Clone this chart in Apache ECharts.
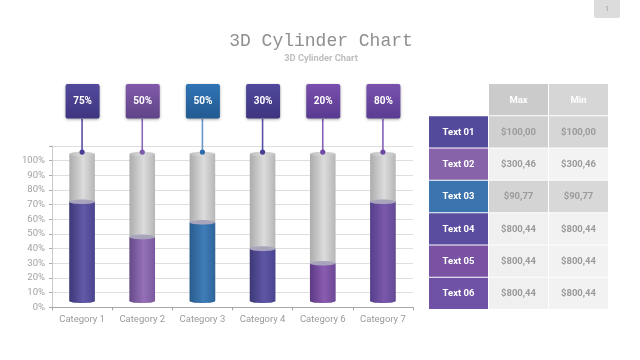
<!DOCTYPE html>
<html><head><meta charset="utf-8">
<script src="https://cdn.jsdelivr.net/npm/echarts@6/dist/echarts.min.js"></script>
<style>html,body{margin:0;padding:0;background:#fff}#c{width:640px;height:360px}</style></head>
<body><div id="c"></div>
<script>
const categories = ['Category 1','Category 2','Category 3','Category 4','Category 6','Category 7'];
const fillValues = [72, 48, 58, 40, 30, 72];
const calloutLabels = ['75%','50%','50%','30%','20%','80%'];
const cylinderBase = 4.5;
const cylinderTop = 104.5;
const barPalette = [
  ['#3d3878','#625aa8','#4a4490'],
  ['#664a8a','#9570b8','#7a5a9e'],
  ['#2a5c8e','#3f7cb8','#2f659c'],
  ['#3d3878','#5f57a5','#4a4490'],
  ['#5c3a85','#8a5cb0','#6c4896'],
  ['#553f8c','#7a58ab','#634a98']
];
const calloutPalette = [
  ['#52499c','#3d3580'],['#8259ab','#5f4488'],['#2f74b5','#235a92'],
  ['#50489c','#3d3580'],['#7a4fae','#583a90'],['#7a52ae','#5a3c92']
];
const lineColors = ['#5a50a8','#8a68b8','#6a96c8','#5a50a8','#8460b8','#8460b8'];
const dotColors = ['#483f95','#7d5cab','#2d6cab','#483f95','#6f4aa5','#6f4aa5'];
const tableCols = ['','Max','Min'];
const rowLabels = ['Text 01','Text 02','Text 03','Text 04','Text 05','Text 06'];
const maxValues = ['$100,00','$300,46','$90,77','$800,44','$800,44','$800,44'];
const minValues = ['$100,00','$300,46','$90,77','$800,44','$800,44','$800,44'];
const rowColors = ['#544a9c','#8763aa','#3b74ae','#5a4da0','#7a52a4','#6f52a6'];
const headColors = ['#ffffff','#cbcbcb','#d6d6d6'];
const rowShades = [['#d0d0d0','#d6d6d6'],['#f1f1f1','#f3f3f3'],['#d4d4d4','#d8d8d8'],['#f0f0f0','#f2f2f2'],['#f0f0f0','#f2f2f2'],['#f0f0f0','#f2f2f2']];
const yMax = 110;
const tableRowKeys = ['h','0','1','2','3','4','5'];

const F = 'Roboto';
const grad = (a,b,c) => ({type:'linear',x:0,y:0,x2:1,y2:0,colorStops:[
  {offset:0,color:a},{offset:0.55,color:b},{offset:1,color:c}]});

function cyl(api, topV, body, cap){
  const x = api.coord([api.value(0),0])[0];
  const w = api.size([1,0])[0]*0.425;
  const top = api.coord([0,topV])[1];
  const bot = api.coord([0,cylinderBase])[1];
  const ry = 2.3;
  return {type:'group',children:[
    {type:'ellipse',shape:{cx:x,cy:bot,rx:w/2,ry:ry},style:{fill:body}},
    {type:'rect',shape:{x:x-w/2,y:top,width:w,height:bot-top},style:{fill:body}},
    {type:'ellipse',shape:{cx:x,cy:top,rx:w/2,ry:ry},style:{fill:cap}}
  ]};
}

const idx = categories.map((c,i)=>i);
const tableData = [];
tableRowKeys.forEach((r,ri)=>tableCols.forEach((c,ci)=>tableData.push([ci,ri])));

const option = {
  animation:false,
  backgroundColor:'#fff',
  title:[
    {text:'3D Cylinder Chart',left:316,top:27,textAlign:'center',
     textStyle:{fontFamily:'Liberation Mono',fontSize:18,fontWeight:'normal',color:'#8f8f8f'}},
    {text:'3D Cylinder Chart',left:316,top:49,textAlign:'center',
     textStyle:{fontFamily:F,fontSize:9.3,fontWeight:'bold',color:'#bdbdbd'}}
  ],
  graphic:[
    {type:'rect',shape:{x:594,y:0,width:26,height:18,r:[0,0,2,2]},style:{fill:'#dcdcdc'}},
    {type:'text',style:{x:607,y:9,text:'1',align:'center',verticalAlign:'middle',fill:'#999',fontSize:7,fontFamily:F}}
  ],
  grid:[
    {left:52,top:146,width:361,height:161.3},
    {left:429,top:84,width:180,height:226}
  ],
  xAxis:[
    {type:'category',gridIndex:0,data:categories,
     axisLine:{lineStyle:{color:'#a8a8a8',width:1}},
     axisTick:{show:true,length:3,lineStyle:{color:'#a8a8a8'}},
     axisLabel:{color:'#9a9a9a',fontFamily:F,fontSize:9.5,margin:7,interval:0}},
    {type:'category',gridIndex:1,data:tableCols,show:false}
  ],
  yAxis:[
    {type:'value',gridIndex:0,min:0,max:yMax,interval:10,
     axisLine:{show:true,lineStyle:{color:'#c8c8c8',width:1}},
     axisTick:{show:true,length:3,lineStyle:{color:'#a8a8a8'}},
     splitLine:{lineStyle:{color:'#dedede',width:1.2}},
     axisLabel:{color:'#a2a2a2',fontFamily:F,fontSize:9.5,margin:7,
       formatter:v=>v>100?'':v+'%'}},
    {type:'category',gridIndex:1,data:tableRowKeys,inverse:true,show:false}
  ],
  series:[
    {type:'custom',xAxisIndex:0,yAxisIndex:0,z:3,data:idx.map(i=>[i,cylinderTop]),
     renderItem:(p,api)=>cyl(api,api.value(1),grad('#acacac','#dcdcdc','#b6b6b6'),
       {type:'linear',x:0,y:0,x2:1,y2:0,colorStops:[{offset:0,color:'#bcbcbc'},{offset:0.5,color:'#dadada'},{offset:1,color:'#c2c2c2'}]})},
    {type:'custom',xAxisIndex:0,yAxisIndex:0,z:4,data:idx.map(i=>[i,fillValues[i]]),
     renderItem:(p,api)=>{const c=barPalette[api.value(0)];
       return cyl(api,api.value(1),grad(c[0],c[1],c[2]),'#a8a4bc');}},
    {type:'custom',xAxisIndex:0,yAxisIndex:0,z:5,data:idx.map(i=>[i,cylinderTop]),
     renderItem:(p,api)=>{
       const i=api.value(0), x=api.coord([i,0])[0], dotY=api.coord([0,api.value(1)])[1]-2;
       const c=calloutPalette[i];
       return {type:'group',children:[
         {type:'line',shape:{x1:x,y1:119,x2:x,y2:dotY},style:{stroke:lineColors[i],lineWidth:1.6}},
         {type:'circle',shape:{cx:x,cy:dotY,r:2.6},style:{fill:dotColors[i]}},
         {type:'rect',shape:{x:x-16.5,y:84,width:34,height:34.5,r:2},
          style:{fill:{type:'linear',x:0,y:0,x2:0,y2:1,colorStops:[{offset:0,color:c[0]},{offset:1,color:c[1]}]},
            shadowBlur:3,shadowOffsetY:1,shadowColor:'rgba(0,0,0,0.35)'}},
         {type:'text',style:{x:x+0.5,y:101.5,text:calloutLabels[i],align:'center',verticalAlign:'middle',
           fill:'#fff',fontFamily:F,fontSize:10,fontWeight:'bold'}}
       ]};
     }},
    {type:'custom',xAxisIndex:1,yAxisIndex:1,z:3,data:tableData,
     renderItem:(p,api)=>{
       const ci=api.value(0), ri=api.value(1);
       if(ci===0&&ri===0) return {type:'group',children:[]};
       const pt=api.coord([ci,ri]), s=api.size([1,1]);
       const x=pt[0]-s[0]/2, y=pt[1]-s[1]/2;
       let fill,txt,col='#9b9b9b';
       if(ri===0){fill=headColors[ci];txt=tableCols[ci];col='#fff';}
       else if(ci===0){fill=rowColors[ri-1];txt=rowLabels[ri-1];col='#fff';}
       else{fill=rowShades[ri-1][ci-1];txt=(ci===1?maxValues:minValues)[ri-1];}
       return {type:'group',children:[
         {type:'rect',shape:{x:x,y:y,width:s[0]-1,height:s[1]-1},style:{fill:fill}},
         {type:'text',style:{x:x+s[0]/2-0.5,y:y+s[1]/2,text:txt,align:'center',verticalAlign:'middle',
           fill:col,fontFamily:F,fontSize:9.5,fontWeight:'bold'}}
       ]};
     }}
  ]
};
const chart = echarts.init(document.getElementById('c'),null,{renderer:'canvas'});
chart.setOption(option);
</script></body></html>
